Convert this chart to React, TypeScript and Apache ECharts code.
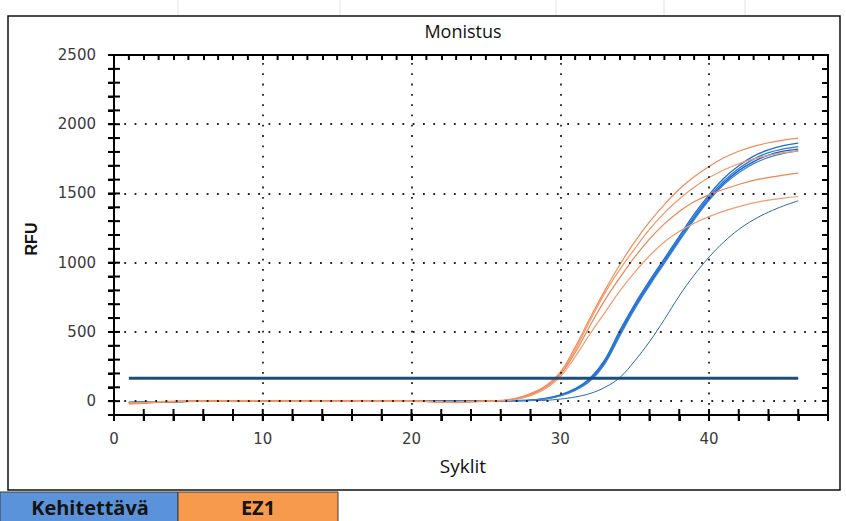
import React, { useEffect, useRef } from "react";
import * as echarts from "echarts";

const cycles = [1,2,3,4,5,6,7,8,9,10,11,12,13,14,15,16,17,18,19,20,21,22,23,24,25,26,27,28,29,30,31,32,33,34,35,36,37,38,39,40,41,42,43,44,45,46];

// EZ1 (orange)
const ez1A = [-18,-14,-6,-3,-2,0,1,0,3,1,0,-1,0,1,0,0,-1,0,1,0,-2,-7,-9,-4,0,
  5,20,55,110,210,390,600,800,985,1150,1295,1420,1530,1620,1695,1758,1805,1840,1866,1885,1900];
const ez1B = [-15,-12,-4,-2,-1,0,0,1,4,2,0,0,-1,0,1,0,0,-1,0,0,-1,-5,-8,-3,0,
  4,18,50,105,200,370,580,780,950,1100,1240,1360,1460,1545,1615,1670,1715,1750,1775,1795,1808];
const ez1C = [-20,-16,-8,-5,-3,-1,0,0,2,0,-1,0,0,0,0,1,0,0,0,-1,-3,-8,-10,-5,-1,
  3,15,45,100,190,350,545,730,890,1040,1170,1280,1370,1440,1490,1530,1565,1595,1615,1633,1647];
const ez1D = [-12,-10,-3,-1,0,1,1,0,2,1,0,0,0,-1,0,0,0,0,0,0,-1,-4,-6,-2,0,
  3,12,40,90,175,320,485,640,795,930,1050,1150,1225,1285,1333,1372,1405,1432,1452,1467,1478];

// Kehitettävä (blue)
const kehA = [-10,-8,-6,-4,-2,-1,0,0,1,0,0,0,0,0,0,0,0,0,0,0,0,0,0,1,2,3,5,
  8,20,45,90,165,300,510,700,870,1030,1190,1350,1490,1610,1700,1770,1815,1845,1863];
const kehB = [-9,-7,-5,-3,-2,-1,0,0,0,0,0,0,0,0,0,0,0,0,0,0,0,0,0,1,2,3,4,
  7,18,42,85,158,290,495,690,860,1020,1180,1335,1475,1590,1680,1748,1795,1822,1839];
const kehC = [-11,-9,-6,-4,-2,-1,0,0,1,0,0,0,0,0,0,0,0,0,0,0,0,0,0,0,1,2,4,
  6,16,40,82,150,280,480,675,845,1005,1165,1320,1460,1575,1665,1730,1777,1805,1820];
const kehD = [-8,-7,-5,-3,-1,0,0,0,0,0,0,0,0,0,0,0,0,0,0,0,0,0,0,0,1,2,3,
  5,15,38,78,145,270,470,665,835,995,1155,1310,1450,1565,1650,1715,1760,1790,1808];
const kehLate = [-10,-8,-6,-4,-2,-1,0,0,0,0,0,0,0,0,0,0,0,0,0,0,0,0,0,0,1,2,3,4,6,
  15,30,55,100,170,290,430,590,760,910,1040,1150,1240,1310,1365,1410,1447];

const thresholdValue = 165;
const thresholdCycles = [1, 46];

const xGridValues = [10, 20, 30, 40];
const yGridValues = [0, 500, 1000, 1500, 2000];
const xTickValues = [0,2,4,6,8,10,12,14,16,18,20,22,24,26,28,30,32,34,36,38,40,42,44,46,48];
const xTopMinorTicks = [1,3,5,7,9,11,13,15,17,19,21,23,25,27,29,31,33,35,37,39,41,43,45,47];
const yTickValues = [-100,0,100,200,300,400,500,600,700,800,900,1000,1100,1200,1300,1400,1500,1600,1700,1800,1900,2000,2100,2200,2300,2400,2500];
const xRange = [0, 48];
const yRange = [-100, 2500];

const title = "Monistus";
const yName = "RFU";
const xName = "Syklit";
const legendNames = ["Kehitettävä", "EZ1"];

const pairs = (vals: number[]) => cycles.map((c, i) => [c, vals[i]]);

export default function App() {
  const ref = useRef<HTMLDivElement>(null);
  useEffect(() => {
    document.body.style.margin = "0";
    if (!ref.current) return;
    const chart = echarts.init(ref.current, null, { renderer: "svg" });

    const labelFont = { fontFamily: "DejaVu Sans", fontSize: 15, color: "#3a3a3a" };

    const blueLine = (name: string, vals: number[], color: string, width = 1.3) => ({
      name, type: "line", data: pairs(vals), symbol: "none", smooth: 0.4, z: 3,
      lineStyle: { color, width }, xAxisIndex: 0, yAxisIndex: 0,
    });
    const orangeLine = (name: string, vals: number[], color: string) => ({
      name, type: "line", data: pairs(vals), symbol: "none", smooth: 0.4, z: 4,
      lineStyle: { color, width: 1.2 }, xAxisIndex: 0, yAxisIndex: 0,
    });
    const tickSeries = (name: string, data: number[][], size: number[], offset: number[]) => ({
      name, type: "scatter", data, symbol: "rect", symbolSize: size, symbolOffset: offset,
      itemStyle: { color: "#000000", opacity: 1, borderWidth: 0 }, silent: true, clip: false, z: 20,
      xAxisIndex: 0, yAxisIndex: 0, emphasis: { disabled: true }, animation: false,
    });

    const axisBase = { onZero: false };
    const tickLine = { color: "#000", width: 2 };
    chart.setOption({
      animation: false,
      backgroundColor: "#ffffff",
      tooltip: { show: false },
      grid: { left: 114, right: 18, top: 55, bottom: 106 },
      xAxis: [
        {
          type: "value", min: xRange[0], max: xRange[1], interval: 2, position: "bottom",
          axisLine: { show: true, ...axisBase, lineStyle: { color: "#000", width: 2 } },
          axisTick: { show: true, inside: false, length: 6, lineStyle: tickLine },
          axisLabel: { ...labelFont, margin: 16, formatter: (v: number) => (v % 10 === 0 ? String(v) : "") },
          splitLine: { show: false },
        },
        {
          type: "value", min: xRange[0], max: xRange[1], interval: 2, position: "top",
          axisLine: { show: true, ...axisBase, lineStyle: { color: "#000", width: 2 } },
          axisTick: { show: true, inside: true, length: 5, lineStyle: tickLine },
          axisLabel: { show: false }, splitLine: { show: false },
        },
      ],
      yAxis: [
        {
          type: "value", min: yRange[0], max: yRange[1], interval: 100, position: "left",
          axisLine: { show: true, ...axisBase, lineStyle: { color: "#000", width: 2 } },
          axisTick: { show: true, inside: false, length: 6, lineStyle: tickLine },
          axisLabel: { ...labelFont, margin: 18, formatter: (v: number) => (v % 500 === 0 ? String(v) : "") },
          splitLine: { show: false },
        },
        {
          type: "value", min: yRange[0], max: yRange[1], interval: 100, position: "right",
          axisLine: { show: true, ...axisBase, lineStyle: { color: "#000", width: 2 } },
          axisTick: { show: true, inside: true, length: 6, lineStyle: tickLine },
          axisLabel: { show: false }, splitLine: { show: false },
        },
      ],
      series: [
        {
          name: "grid", type: "line", data: [], xAxisIndex: 0, yAxisIndex: 0, z: 1,
          markLine: {
            silent: true, symbol: "none", label: { show: false },
            lineStyle: { color: "#222", width: 1.8, type: [1.8, 8.5] },
            data: [
              ...xGridValues.map((v) => ({ xAxis: v })),
              ...yGridValues.map((v) => ({ yAxis: v })),
            ],
          },
        },
        blueLine("Kehitettävä 5", kehLate, "#2C66B0", 1),
        blueLine("Kehitettävä 1", kehA, "#1E6FD2"),
        blueLine("Kehitettävä 2", kehB, "#2B79D8"),
        blueLine("Kehitettävä 3", kehC, "#1A62C2"),
        blueLine("Kehitettävä 4", kehD, "#3A84DC"),
        orangeLine("EZ1 1", ez1A, "#F08C5A"),
        orangeLine("EZ1 2", ez1B, "#F29766"),
        orangeLine("EZ1 3", ez1C, "#EE8552"),
        orangeLine("EZ1 4", ez1D, "#F39C6C"),
        {
          name: "Kynnys", type: "line", symbol: "none", z: 5,
          data: thresholdCycles.map((c) => [c, thresholdValue]),
          lineStyle: { color: "#1F4E79", width: 3 }, xAxisIndex: 0, yAxisIndex: 0,
        },
        tickSeries("ticks-bottom", xTickValues.map((v) => [v, yRange[0]]), [2, 12], [0, 0]),
        tickSeries("ticks-top-minor", xTopMinorTicks.map((v) => [v, yRange[1]]), [2, 5], [0, 2.5]),
        tickSeries("ticks-left", yTickValues.map((v) => [xRange[0], v]), [12, 2], [0, 0]),
      ],
      graphic: [
        { type: "line", shape: { x1: 178, y1: 0, x2: 178, y2: 16 }, style: { stroke: "#e2e2e2", lineWidth: 1 } },
        { type: "line", shape: { x1: 340, y1: 0, x2: 340, y2: 16 }, style: { stroke: "#e2e2e2", lineWidth: 1 } },
        { type: "line", shape: { x1: 556, y1: 0, x2: 556, y2: 16 }, style: { stroke: "#e2e2e2", lineWidth: 1 } },
        { type: "line", shape: { x1: 664, y1: 0, x2: 664, y2: 16 }, style: { stroke: "#e2e2e2", lineWidth: 1 } },
        { type: "line", shape: { x1: 745, y1: 0, x2: 745, y2: 16 }, style: { stroke: "#e2e2e2", lineWidth: 1 } },
        {
          type: "rect", shape: { x: 8, y: 16, width: 832, height: 474 },
          style: { fill: "none", stroke: "#111", lineWidth: 1.5 }, silent: true,
        },
        {
          type: "text", x: 463, y: 31,
          style: { text: title, fontFamily: "Open Sans", fontSize: 18, fill: "#111", align: "center", verticalAlign: "middle" },
        },
        {
          type: "text", x: 31, y: 239, rotation: Math.PI / 2,
          style: { text: yName, fontFamily: "Liberation Sans", fontWeight: "bold", fontSize: 16, fill: "#111", align: "center", verticalAlign: "middle" },
        },
        {
          type: "text", x: 463, y: 466,
          style: { text: xName, fontFamily: "Open Sans", fontSize: 19, fill: "#111", align: "center", verticalAlign: "middle" },
        },
        {
          type: "rect", shape: { x: 0, y: 492, width: 178, height: 30 },
          style: { fill: "#5A93D9", stroke: "#3c3c3c", lineWidth: 1 },
        },
        {
          type: "rect", shape: { x: 178, y: 492, width: 160, height: 30 },
          style: { fill: "#F79A4E", stroke: "#3c3c3c", lineWidth: 1 },
        },
        {
          type: "text", x: 90, y: 507,
          style: { text: legendNames[0], fontFamily: "Open Sans", fontWeight: "bold", fontSize: 20, fill: "#141414", align: "center", verticalAlign: "middle" },
        },
        {
          type: "text", x: 258, y: 507,
          style: { text: legendNames[1], fontFamily: "Open Sans", fontWeight: "bold", fontSize: 20, fill: "#141414", align: "center", verticalAlign: "middle" },
        },
      ],
    });

    return () => chart.dispose();
  }, []);
  return <div ref={ref} style={{ width: 846, height: 521 }} />;
}
